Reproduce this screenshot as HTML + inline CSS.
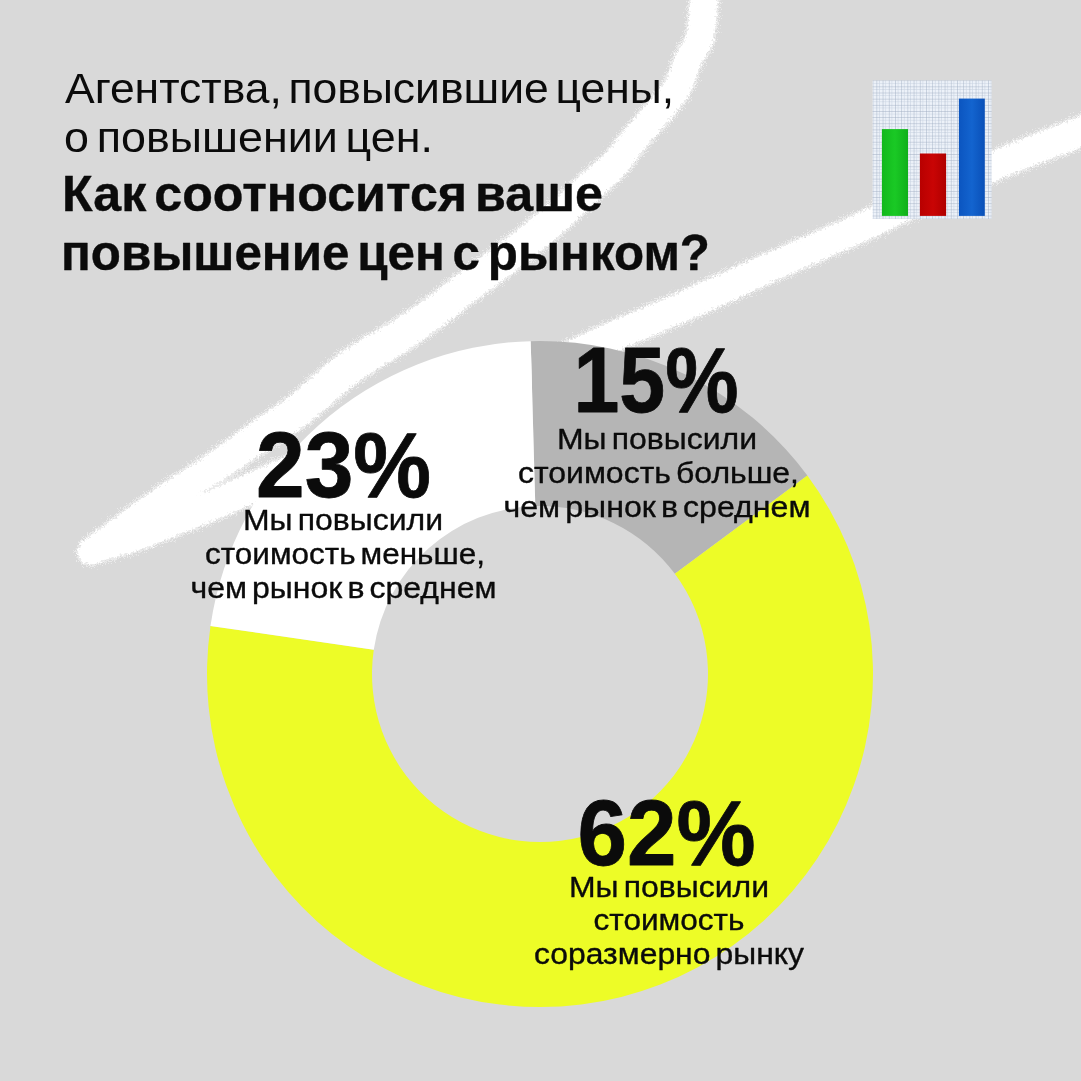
<!DOCTYPE html><html><head><meta charset="utf-8"><title>Повышение цен</title><style>html,body{margin:0;padding:0;background:#d9d9d9;}svg{display:block;will-change:transform}text{font-family:"Liberation Sans",Arial,sans-serif;fill:#0b0b0b}</style></head><body>
<svg width="1081" height="1081" viewBox="0 0 1081 1081">
<defs>
<filter id="chalk" x="-5%" y="-5%" width="110%" height="110%">
<feTurbulence type="fractalNoise" baseFrequency="0.45" numOctaves="3" seed="7" result="n"/>
<feDisplacementMap in="SourceGraphic" in2="n" scale="8" xChannelSelector="R" yChannelSelector="G"/>
<feGaussianBlur stdDeviation="0.5"/>
</filter>
<filter id="chalk2" x="-5%" y="-5%" width="110%" height="110%">
<feTurbulence type="fractalNoise" baseFrequency="1.2" numOctaves="2" seed="11" result="n"/>
<feDisplacementMap in="SourceGraphic" in2="n" scale="14" xChannelSelector="R" yChannelSelector="G"/>
</filter>
<pattern id="grid" width="6.2" height="6.15" patternUnits="userSpaceOnUse" x="876.4" y="86.4">
<rect x="-1" y="-1" width="8" height="8" fill="#edf2f9"/>
<path d="M0,3.1H6.2M3.1,0V6.15" stroke="#cdd6e4" stroke-width="0.6"/>
<path d="M0,0H6.2M0,0V6.15" stroke="#9fadc2" stroke-width="0.9"/>
</pattern>
<linearGradient id="gG" x1="0" x2="1"><stop offset="0" stop-color="#12b81c"/><stop offset="0.5" stop-color="#1ac925"/><stop offset="1" stop-color="#10b01a"/></linearGradient>
<linearGradient id="gR" x1="0" x2="1"><stop offset="0" stop-color="#b80000"/><stop offset="0.5" stop-color="#c90404"/><stop offset="1" stop-color="#b00000"/></linearGradient>
<linearGradient id="gB" x1="0" x2="1"><stop offset="0" stop-color="#0b55c0"/><stop offset="0.5" stop-color="#1364cf"/><stop offset="1" stop-color="#0a50b8"/></linearGradient>
</defs>
<rect width="1081" height="1081" fill="#d9d9d9"/>
<g filter="url(#chalk2)" fill="#ffffff" opacity="0.45">
<path d="M690.2,-16.3 C689.8,-13.9 689.0,-10.1 688.1,-1.9 C687.2,6.3 687.0,23.7 684.5,32.9 C682.1,42.1 677.0,45.6 673.4,53.4 C669.9,61.2 668.8,70.7 663.3,79.7 C657.8,88.8 647.6,99.5 640.7,107.8 C633.7,116.2 627.8,122.5 621.6,129.8 C615.5,137.2 610.6,144.8 603.9,151.8 C597.2,158.7 589.9,164.0 581.5,171.5 C573.1,179.0 563.8,187.8 553.4,196.9 C542.9,206.0 531.9,215.5 518.8,225.9 C505.6,236.4 485.3,251.3 474.2,259.6 C463.1,267.9 459.6,270.0 452.1,275.6 C444.7,281.3 439.8,286.0 429.4,293.5 C419.0,300.9 405.0,310.8 389.9,320.5 C374.8,330.2 355.6,339.4 338.8,351.7 C321.9,364.0 303.6,382.7 288.7,394.3 C273.9,405.9 260.3,413.8 249.8,421.2 C239.4,428.5 234.6,432.5 226.0,438.6 C217.5,444.7 209.4,450.6 198.6,457.8 C187.9,465.0 173.9,473.5 161.5,481.9 C149.1,490.3 135.9,499.6 124.2,508.1 C112.5,516.6 98.7,527.2 91.1,532.7 C83.5,538.2 80.7,539.6 78.6,541.0 L93.4,567.0 C96.0,565.7 100.5,564.5 108.9,559.3 C117.3,554.1 131.8,544.1 143.8,535.9 C155.7,527.7 168.3,518.4 180.5,510.1 C192.8,501.8 206.5,493.3 217.4,486.2 C228.3,479.1 237.2,473.3 246.0,467.4 C254.8,461.5 259.3,458.1 270.2,450.8 C281.1,443.5 296.1,435.1 311.3,423.7 C326.4,412.3 344.7,394.4 361.2,382.3 C377.7,370.3 395.2,361.4 410.1,351.5 C425.0,341.5 440.0,330.4 450.6,322.5 C461.2,314.7 466.3,310.0 473.9,304.4 C481.4,298.7 484.5,296.8 495.8,288.4 C507.0,280.0 527.8,264.9 541.2,254.1 C554.7,243.2 566.1,232.7 576.6,223.1 C587.2,213.5 595.9,204.6 604.5,196.5 C613.1,188.4 621.1,182.0 628.1,174.2 C635.0,166.5 640.1,157.8 646.4,150.2 C652.6,142.5 657.9,137.2 665.3,128.2 C672.7,119.2 684.5,106.5 690.7,96.3 C696.9,86.0 698.5,75.8 702.6,66.6 C706.7,57.4 712.6,51.9 715.5,41.1 C718.3,30.3 718.8,10.7 719.9,1.9 C721.0,-6.9 721.5,-9.5 721.8,-11.7 Z"/>
<path d="M1103.7,104.2 C1098.5,106.3 1092.4,108.7 1072.7,116.6 C1053.0,124.5 1015.4,138.9 985.5,151.8 C955.6,164.7 915.1,183.8 893.1,194.0 C871.0,204.2 873.2,204.0 853.2,213.0 C833.3,221.9 803.3,234.7 773.3,247.9 C743.3,261.2 701.5,280.0 673.1,292.4 C644.8,304.9 621.0,314.6 603.2,322.4 C585.4,330.3 579.6,333.7 566.4,339.4 C553.1,345.0 539.1,349.9 523.6,356.3 C508.1,362.6 491.8,369.6 473.4,377.3 C455.1,385.0 433.4,394.0 413.5,402.3 C393.5,410.6 373.6,419.1 353.6,427.3 C333.6,435.4 310.3,444.4 293.6,451.3 C276.8,458.1 263.9,463.7 253.2,468.4 C242.4,473.1 237.7,475.6 229.1,479.5 C220.5,483.3 212.2,486.8 201.5,491.3 C190.7,495.8 176.8,501.2 164.6,506.2 C152.4,511.3 139.9,517.0 128.3,521.5 C116.7,526.0 102.9,530.2 95.1,533.3 C87.3,536.3 83.6,538.7 81.3,539.8 L90.7,566.2 C93.1,565.6 96.7,565.0 104.9,562.7 C113.1,560.4 127.6,556.7 139.7,552.5 C151.8,548.3 164.9,542.7 177.4,537.8 C189.9,532.8 203.6,527.2 214.5,522.7 C225.4,518.2 234.2,514.4 242.9,510.5 C251.6,506.7 256.2,504.2 266.8,499.6 C277.4,494.9 289.8,489.5 306.4,482.7 C323.1,475.9 346.4,466.9 366.4,458.7 C386.4,450.6 406.5,442.0 426.5,433.7 C446.6,425.3 468.2,416.3 486.6,408.7 C504.9,401.0 520.9,394.1 536.4,387.7 C551.9,381.4 566.2,376.3 579.6,370.6 C593.1,365.0 599.0,361.4 616.8,353.6 C634.7,345.7 658.6,336.1 686.9,323.6 C715.2,311.0 756.7,291.5 786.7,278.1 C816.7,264.7 846.7,252.1 866.8,243.0 C886.8,234.0 885.0,234.1 906.9,224.0 C928.9,213.8 968.8,194.8 998.5,182.2 C1028.2,169.5 1065.7,155.9 1085.3,148.2 C1104.9,140.5 1111.1,137.9 1116.3,135.8 Z"/>
<circle cx="89" cy="553" r="13"/>
</g>
<g filter="url(#chalk)" fill="#ffffff">
<path d="M692.6,-15.9 C692.3,-13.5 691.5,-9.8 690.6,-1.6 C689.6,6.7 689.4,24.2 687.0,33.5 C684.5,42.9 679.3,46.5 675.7,54.5 C672.1,62.4 671.0,71.9 665.4,81.0 C659.9,90.2 649.6,101.0 642.6,109.4 C635.6,117.8 629.7,124.1 623.6,131.4 C617.4,138.8 612.5,146.5 605.8,153.5 C599.0,160.4 591.6,165.8 583.2,173.3 C574.7,180.9 565.5,189.7 555.0,198.8 C544.6,207.9 533.5,217.4 520.3,227.9 C507.1,238.4 486.8,253.3 475.7,261.6 C464.6,269.9 461.1,272.0 453.7,277.6 C446.2,283.3 441.3,288.0 430.9,295.5 C420.5,303.0 406.3,312.9 391.2,322.6 C376.1,332.3 357.1,341.4 340.3,353.7 C323.4,366.0 305.1,384.7 290.3,396.3 C275.4,407.9 261.7,415.8 251.2,423.2 C240.8,430.6 236.0,434.6 227.5,440.7 C218.9,446.8 210.8,452.7 200.0,459.9 C189.2,467.1 175.3,475.6 162.9,484.0 C150.5,492.4 137.4,501.7 125.7,510.1 C113.9,518.6 100.2,529.3 92.5,534.8 C84.9,540.3 81.9,541.8 79.8,543.1 L92.2,564.9 C94.7,563.6 99.1,562.4 107.5,557.2 C115.8,552.1 130.4,542.1 142.3,533.9 C154.3,525.7 166.8,516.3 179.1,508.0 C191.4,499.7 205.1,491.2 216.0,484.1 C226.9,477.0 235.7,471.2 244.5,465.3 C253.3,459.4 257.9,456.0 268.8,448.8 C279.6,441.5 294.6,433.1 309.7,421.7 C324.9,410.3 343.2,392.4 359.7,380.3 C376.2,368.3 393.9,359.3 408.8,349.4 C423.7,339.4 438.5,328.4 449.1,320.5 C459.7,312.7 464.8,308.0 472.3,302.4 C479.9,296.7 483.0,294.8 494.3,286.4 C505.5,278.0 526.2,263.0 539.7,252.1 C553.1,241.2 564.4,230.8 575.0,221.2 C585.5,211.6 594.3,202.8 602.8,194.7 C611.4,186.6 619.3,180.2 626.2,172.5 C633.2,164.9 638.2,156.2 644.4,148.6 C650.6,140.9 656.0,135.5 663.4,126.6 C670.8,117.7 682.4,105.2 688.6,95.0 C694.7,84.8 696.2,74.6 700.3,65.5 C704.4,56.5 710.2,51.1 713.0,40.5 C715.9,29.8 716.4,10.3 717.4,1.6 C718.5,-7.2 719.0,-9.8 719.4,-12.1 Z"/>
<path d="M1104.6,106.5 C1099.5,108.6 1093.3,111.0 1073.6,118.9 C1053.9,126.9 1016.4,141.2 986.5,154.1 C956.6,167.0 916.2,186.1 894.1,196.3 C872.1,206.5 874.2,206.2 854.3,215.2 C834.3,224.2 804.3,237.0 774.3,250.2 C744.3,263.5 702.5,282.3 674.1,294.7 C645.8,307.2 622.0,316.9 604.2,324.7 C586.4,332.5 580.6,336.0 567.3,341.7 C554.1,347.3 540.0,352.2 524.5,358.6 C509.0,364.9 492.8,371.9 474.4,379.6 C456.1,387.3 434.4,396.3 414.4,404.6 C394.4,412.9 374.5,421.4 354.5,429.6 C334.5,437.7 311.2,446.7 294.5,453.6 C277.8,460.4 264.9,466.0 254.2,470.7 C243.5,475.4 238.8,477.9 230.1,481.7 C221.5,485.6 213.2,489.1 202.4,493.6 C191.7,498.1 177.8,503.5 165.6,508.6 C153.3,513.6 140.8,519.3 129.2,523.9 C117.6,528.4 103.7,532.6 95.9,535.7 C88.0,538.7 84.4,541.1 82.1,542.2 L89.9,563.8 C92.2,563.2 96.0,562.6 104.1,560.3 C112.3,558.1 126.8,554.3 138.8,550.1 C150.9,546.0 164.0,540.4 176.4,535.4 C188.9,530.5 202.7,524.9 213.6,520.4 C224.5,515.9 233.2,512.1 241.9,508.3 C250.6,504.4 255.2,501.9 265.8,497.3 C276.4,492.6 288.9,487.2 305.5,480.4 C322.1,473.6 345.5,464.6 365.5,456.4 C385.5,448.3 405.6,439.7 425.6,431.4 C445.6,423.0 467.3,414.0 485.6,406.4 C503.9,398.7 520.0,391.8 535.5,385.4 C551.0,379.1 565.3,374.0 578.7,368.3 C592.1,362.7 598.0,359.1 615.8,351.3 C633.7,343.4 657.5,333.8 685.9,321.3 C714.2,308.7 755.7,289.2 785.7,275.8 C815.7,262.4 845.7,249.8 865.7,240.8 C885.8,231.8 883.9,231.9 905.9,221.7 C927.8,211.6 967.8,192.5 997.5,179.9 C1027.3,167.2 1064.7,153.6 1084.4,145.9 C1104.0,138.1 1110.2,135.5 1115.4,133.5 Z"/>
<circle cx="89" cy="553" r="11"/>
</g>
<path d="M530.70,341.13 A333.0,333.0 0 0 1 807.34,475.46 L674.87,573.83 A168.0,168.0 0 0 0 535.31,506.07 Z" fill="#b5b5b5"/>
<path d="M807.34,475.46 A333.0,333.0 0 1 1 210.49,625.93 L373.76,649.75 A168.0,168.0 0 1 0 674.87,573.83 Z" fill="#edfc27"/>
<path d="M210.49,625.93 A333.0,333.0 0 0 1 530.70,341.13 L535.31,506.07 A168.0,168.0 0 0 0 373.76,649.75 Z" fill="#ffffff"/>
<rect x="872.6" y="80.4" width="119" height="138.5" fill="url(#grid)"/>
<rect x="881.9" y="129.1" width="26.1" height="86.8" fill="url(#gG)"/>
<rect x="919.9" y="153.5" width="26.2" height="62.4" fill="url(#gR)"/>
<rect x="958.9" y="98.6" width="25.9" height="117.3" fill="url(#gB)"/>
<text x="65.0" y="103.0" font-size="43" font-weight="normal" text-anchor="start" textLength="609.0" lengthAdjust="spacingAndGlyphs" style="word-spacing:-5.5px;">Агентства, повысившие цены,</text>
<text x="64.0" y="152.0" font-size="43" font-weight="normal" text-anchor="start" textLength="369.0" lengthAdjust="spacingAndGlyphs" style="word-spacing:-4.5px;">о повышении цен.</text>
<text x="62.0" y="211.0" font-size="50.5" font-weight="bold" text-anchor="start" textLength="541.0" lengthAdjust="spacingAndGlyphs" style="stroke:#0b0b0b;stroke-width:0.4px;stroke-linejoin:round;word-spacing:-6px;">Как соотносится ваше</text>
<text x="61.0" y="269.9" font-size="50.5" font-weight="bold" text-anchor="start" textLength="649.0" lengthAdjust="spacingAndGlyphs" style="stroke:#0b0b0b;stroke-width:0.4px;stroke-linejoin:round;word-spacing:-6px;">повышение цен с рынком?</text>
<text x="343.5" y="496.7" font-size="92.5" font-weight="bold" text-anchor="middle" textLength="175.0" lengthAdjust="spacingAndGlyphs" style="stroke:#0b0b0b;stroke-width:0.8px;stroke-linejoin:round;">23%</text>
<text x="343.0" y="529.6" font-size="29.5" font-weight="normal" text-anchor="middle" textLength="200.0" lengthAdjust="spacingAndGlyphs" style="stroke:#0b0b0b;stroke-width:0.35px;stroke-linejoin:round;word-spacing:-3.5px;">Мы повысили</text>
<text x="345.0" y="563.6" font-size="29.5" font-weight="normal" text-anchor="middle" textLength="280.0" lengthAdjust="spacingAndGlyphs" style="stroke:#0b0b0b;stroke-width:0.35px;stroke-linejoin:round;word-spacing:-3.5px;">стоимость меньше,</text>
<text x="343.5" y="597.7" font-size="29.5" font-weight="normal" text-anchor="middle" textLength="306.0" lengthAdjust="spacingAndGlyphs" style="stroke:#0b0b0b;stroke-width:0.35px;stroke-linejoin:round;word-spacing:-3.5px;">чем рынок в среднем</text>
<text x="656.0" y="411.9" font-size="92.5" font-weight="bold" text-anchor="middle" textLength="165.0" lengthAdjust="spacingAndGlyphs" style="stroke:#0b0b0b;stroke-width:0.8px;stroke-linejoin:round;">15%</text>
<text x="657.0" y="449.0" font-size="29.5" font-weight="normal" text-anchor="middle" textLength="200.0" lengthAdjust="spacingAndGlyphs" style="stroke:#0b0b0b;stroke-width:0.35px;stroke-linejoin:round;word-spacing:-3.5px;">Мы повысили</text>
<text x="658.5" y="482.8" font-size="29.5" font-weight="normal" text-anchor="middle" textLength="281.0" lengthAdjust="spacingAndGlyphs" style="stroke:#0b0b0b;stroke-width:0.35px;stroke-linejoin:round;word-spacing:-3.5px;">стоимость больше,</text>
<text x="657.0" y="516.5" font-size="29.5" font-weight="normal" text-anchor="middle" textLength="307.0" lengthAdjust="spacingAndGlyphs" style="stroke:#0b0b0b;stroke-width:0.35px;stroke-linejoin:round;word-spacing:-3.5px;">чем рынок в среднем</text>
<text x="666.5" y="864.6" font-size="92.5" font-weight="bold" text-anchor="middle" textLength="178.0" lengthAdjust="spacingAndGlyphs" style="stroke:#0b0b0b;stroke-width:0.8px;stroke-linejoin:round;">62%</text>
<text x="669.0" y="896.5" font-size="29.5" font-weight="normal" text-anchor="middle" textLength="200.0" lengthAdjust="spacingAndGlyphs" style="stroke:#0b0b0b;stroke-width:0.35px;stroke-linejoin:round;word-spacing:-3.5px;">Мы повысили</text>
<text x="669.0" y="930.2" font-size="29.5" font-weight="normal" text-anchor="middle" textLength="151.0" lengthAdjust="spacingAndGlyphs" style="stroke:#0b0b0b;stroke-width:0.35px;stroke-linejoin:round;word-spacing:-3.5px;">стоимость</text>
<text x="669.0" y="964.2" font-size="29.5" font-weight="normal" text-anchor="middle" textLength="270.0" lengthAdjust="spacingAndGlyphs" style="stroke:#0b0b0b;stroke-width:0.35px;stroke-linejoin:round;word-spacing:-3.5px;">соразмерно рынку</text>
</svg></body></html>
